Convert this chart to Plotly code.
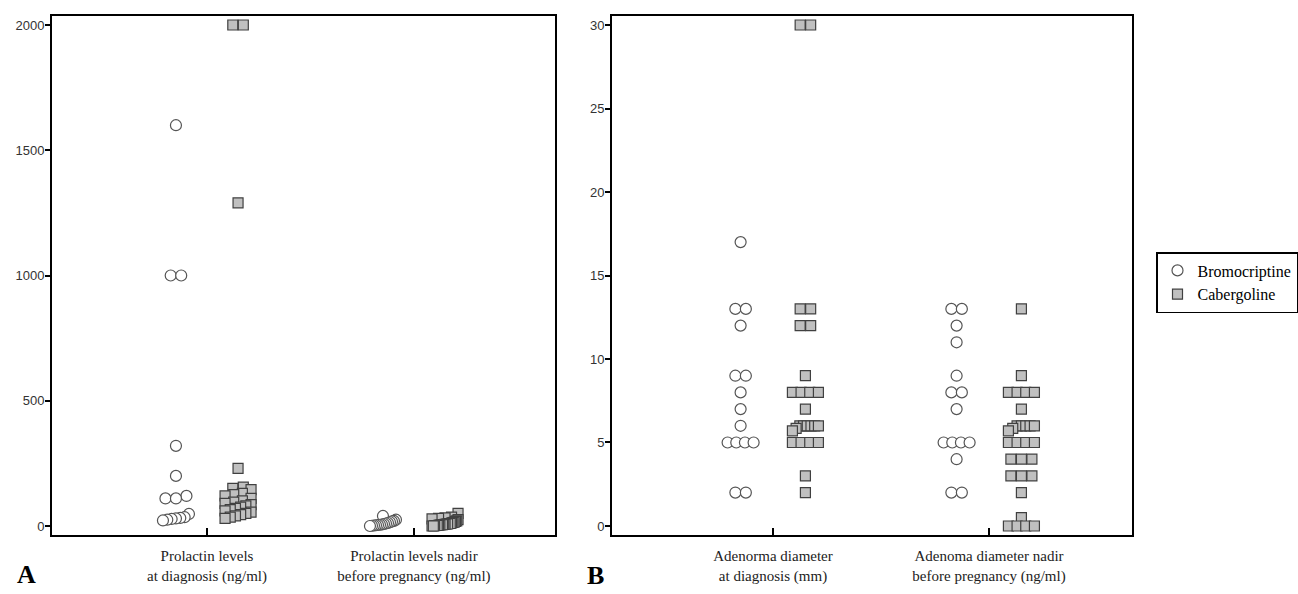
import plotly.graph_objects as go

# ---------------- data ----------------
categories_A = ["Prolactin levels<br>at diagnosis (ng/ml)",
                "Prolactin levels nadir<br>before pregnancy (ng/ml)"]
categories_B = ["Adenorma diameter<br>at diagnosis (mm)",
                "Adenoma diameter nadir<br>before pregnancy (ng/ml)"]

brom_prl_diag = [1600, 1000, 1000, 320, 200, 120, 110, 110, 48, 35, 32, 30, 28, 25, 22]
cab_prl_diag = [2000, 2000, 1290, 230, 155, 150, 145, 130, 125, 120, 110, 100, 95, 90,
                85, 80, 75, 70, 65, 60, 55, 50, 45, 40, 35, 30]
brom_prl_nadir = [40, 25, 20, 18, 15, 12, 10, 8, 6, 5, 4, 3, 2, 1, 0]
cab_prl_nadir = [50, 35, 32, 30, 28, 25, 20, 18, 15, 14, 12, 10, 10, 8, 8, 7, 6, 5, 5,
                 4, 3, 2, 2, 1, 0, 0]

brom_size_diag = [17, 13, 13, 12, 9, 9, 8, 7, 6, 5, 5, 5, 5, 2, 2]
cab_size_diag = [30, 30, 13, 13, 12, 12, 9, 8, 8, 8, 8, 7, 6, 6, 6, 6, 6, 6, 5.85, 5.7,
                 5, 5, 5, 5, 3, 2]
brom_size_nadir = [13, 13, 12, 11, 9, 8, 8, 7, 5, 5, 5, 5, 4, 2, 2]
cab_size_nadir = [13, 9, 8, 8, 8, 8, 7, 6, 6, 6, 6, 6, 5.85, 5.7, 5, 5, 5, 5, 4, 4, 4,
                  3, 3, 3, 2, 0.5, 0, 0, 0, 0]

yticks_A = [0, 500, 1000, 1500, 2000]
yticks_B = [0, 5, 10, 15, 20, 25, 30]

# ---------------- layout geometry ----------------
FW, FH = 1298, 594
TOP, BOT = 16, 535
LX0, LX1 = 52, 555
RX0, RX1 = 612, 1132
xr_A = [0.2512, 2.6812]
xr_B = [0.2546, 2.662]
yr_A = [-36, 2036]
yr_B = [-0.54, 30.54]
SIDE = 0.15


def ppx(x0, x1, r):
    return (x1 - x0) / (r[1] - r[0])


ppx_A, ppx_B = ppx(LX0, LX1, xr_A), ppx(RX0, RX1, xr_B)
ppy_A, ppy_B = ppx(TOP, BOT, yr_A), ppx(TOP, BOT, yr_B)


def offsets(vals, ppy, tol=7.0, dmax=10.5, W=26.0):
    order = sorted(range(len(vals)), key=lambda i: vals[i])
    rows = []
    for i in order:
        if rows and (vals[i] - vals[rows[-1][0]]) * ppy <= tol:
            rows[-1].append(i)
        else:
            rows.append([i])
    off = [0.0] * len(vals)
    for row in rows:
        n = len(row)
        s = dmax if n == 1 else min(dmax, W / (n - 1))
        for k, i in enumerate(row):
            off[i] = (k - (n - 1) / 2) * s
    return off


def xs(vals, cat, side, ppy, ppxv):
    return [cat + side * SIDE + o / ppxv for o in offsets(vals, ppy)]


circle = dict(symbol="circle", size=11, color="white",
              line=dict(color="#555555", width=1.2))
square = dict(symbol="square", size=10, color="#c0c0c0",
              line=dict(color="#404040", width=1.2))

fig = go.Figure()

panels = [
    ("x", "y", ppx_A, ppy_A, [brom_prl_diag, brom_prl_nadir], [cab_prl_diag, cab_prl_nadir], True),
    ("x2", "y2", ppx_B, ppy_B, [brom_size_diag, brom_size_nadir], [cab_size_diag, cab_size_nadir], False),
]
for xa, ya, pxv, pyv, bro, cab, leg in panels:
    bx = xs(bro[0], 1, -1, pyv, pxv) + xs(bro[1], 2, -1, pyv, pxv)
    cx = xs(cab[0], 1, 1, pyv, pxv) + xs(cab[1], 2, 1, pyv, pxv)
    fig.add_trace(go.Scatter(x=bx, y=bro[0] + bro[1], mode="markers", marker=circle,
                             name="Bromocriptine", legendgroup="b", showlegend=leg,
                             xaxis=xa, yaxis=ya, cliponaxis=False))
    fig.add_trace(go.Scatter(x=cx, y=cab[0] + cab[1], mode="markers", marker=square,
                             name="Cabergoline", legendgroup="c", showlegend=leg,
                             xaxis=xa, yaxis=ya, cliponaxis=False))

ytick_font = dict(family="Liberation Sans, Arial", size=13, color="#333333")
xtick_font = dict(family="Liberation Serif, Times New Roman", size=15, color="#222222")
ydom = [1 - BOT / FH, 1 - TOP / FH]

common_x = dict(showline=True, linecolor="black", linewidth=2, mirror=True,
                ticks="inside", ticklen=7, tickwidth=2, tickcolor="black",
                showgrid=False, zeroline=False, tickfont=xtick_font,
                tickvals=[1, 2], ticklabelstandoff=6)
common_y = dict(showline=True, linecolor="black", linewidth=2, mirror=True,
                ticks="outside", ticklen=5, tickwidth=1.5, tickcolor="black",
                showgrid=False, zeroline=False, tickfont=ytick_font, domain=ydom,
                ticklabelstandoff=-2)

fig.update_layout(
    width=FW, height=FH,
    margin=dict(l=0, r=0, t=0, b=0),
    paper_bgcolor="white", plot_bgcolor="white",
    xaxis=dict(common_x, domain=[LX0 / FW, LX1 / FW], range=xr_A, ticktext=categories_A,
               anchor="y"),
    yaxis=dict(common_y, range=yr_A, tickvals=yticks_A, anchor="x"),
    xaxis2=dict(common_x, domain=[RX0 / FW, RX1 / FW], range=xr_B, ticktext=categories_B,
                anchor="y2"),
    yaxis2=dict(common_y, range=yr_B, tickvals=yticks_B, anchor="x2"),
    legend=dict(x=1.0, xanchor="right", y=1 - 252 / FH, yanchor="top",
                bordercolor="black", borderwidth=1.5, bgcolor="white",
                font=dict(family="Liberation Serif, Times New Roman", size=16, color="black"),
                itemwidth=30, tracegroupgap=0),
    annotations=[
        dict(text="<b>A</b>", x=26 / FW, y=1 - 574 / FH, xref="paper", yref="paper",
             xanchor="center", yanchor="middle",
             showarrow=False, font=dict(family="Liberation Serif", size=26, color="black")),
        dict(text="<b>B</b>", x=595 / FW, y=1 - 575 / FH, xref="paper", yref="paper",
             xanchor="center", yanchor="middle",
             showarrow=False, font=dict(family="Liberation Serif", size=26, color="black")),
    ],
)

fig.write_html("out.html", config={"displayModeBar": False},
               post_script="document.body.style.margin='0';document.body.style.overflow='hidden';")
